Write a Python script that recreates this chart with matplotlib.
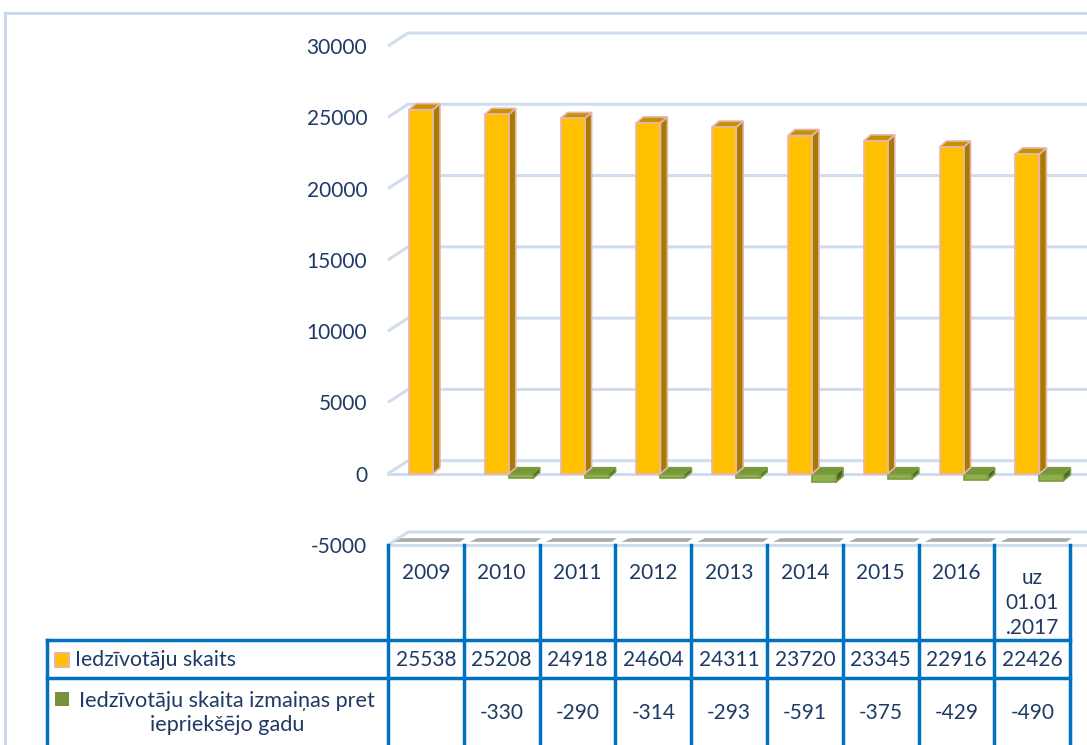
import matplotlib
matplotlib.use("Agg")
import matplotlib.pyplot as plt
from matplotlib.patches import Polygon, Rectangle
from matplotlib.lines import Line2D

plt.rcParams['font.family'] = ['Lato', 'DejaVu Sans']
plt.rcParams['axes.unicode_minus'] = False

# data
categories = ['2009', '2010', '2011', '2012', '2013', '2014', '2015', '2016', 'uz\n01.01\n.2017']
population = [25538, 25208, 24918, 24604, 24311, 23720, 23345, 22916, 22426]
change = [None, -330, -290, -314, -293, -591, -375, -429, -490]
series_names = ['Iedzīvotāju skaits', 'Iedzīvotāju skaita izmaiņas pret\niepriekšējo gadu']
yticks = [-5000, 0, 5000, 10000, 15000, 20000, 25000, 30000]

W, H = 1087, 745
fig = plt.figure(figsize=(W / 100, H / 100), dpi=100)

# pixel layout
ax_left, ax_right = 388, 1087
ax_top, ax_bottom = 46, 545
cat_w = 75.8
x_min = -0.5
x_max = x_min + (ax_right - ax_left) / cat_w
y_min, y_max = -5000, 30000
px_per_val = (ax_bottom - ax_top) / (y_max - y_min)

ax = fig.add_axes([ax_left / W, 1 - ax_bottom / H, (ax_right - ax_left) / W, (ax_bottom - ax_top) / H])
ax.set_xlim(x_min, x_max)
ax.set_ylim(y_min, y_max)
for s in ax.spines.values():
    s.set_visible(False)
ax.set_xticks([])
ax.set_yticks(yticks)
ax.set_yticklabels([str(v) for v in yticks], fontsize=15, color='#1F3A64')
ax.tick_params(axis='y', length=0, pad=15)

# 3d offsets
wall_dx = 20 / cat_w
wall_dy = 13 / px_per_val
bar_dx = 7 / cat_w
bar_dy = 6 / px_per_val
grid_c = '#D0DDEE'

for v in yticks:
    ax.plot([x_min, x_min + wall_dx, x_max + 1], [v, v + wall_dy, v + wall_dy],
            color=grid_c, lw=2.2, clip_on=False, zorder=1, solid_capstyle='butt')
    if v in (0, -5000):
        ax.plot([x_min, x_max + 1], [v, v], color=grid_c, lw=2.2, clip_on=False, zorder=1)

# floor shadows
for i in range(len(categories)):
    ax.add_patch(Polygon([(i - 0.42, y_min + 220), (i + 0.45, y_min + 220),
                          (i + 0.52, y_min + 480), (i - 0.32, y_min + 480)],
                         closed=True, facecolor='#ABABAB', edgecolor='none', zorder=2))

bw = 24 / cat_w
off = 21 / cat_w


def bar3d(x0, v, front, side, top, edge, z):
    lo, hi = min(0, v), max(0, v)
    ax.add_patch(Polygon([(x0 + bw, lo), (x0 + bw + bar_dx, lo + bar_dy),
                          (x0 + bw + bar_dx, hi + bar_dy), (x0 + bw, hi)],
                         facecolor=side, edgecolor=edge, lw=1.2, zorder=z))
    ax.add_patch(Polygon([(x0, hi), (x0 + bar_dx, hi + bar_dy),
                          (x0 + bw + bar_dx, hi + bar_dy), (x0 + bw, hi)],
                         facecolor=top, edgecolor=edge, lw=1.2, zorder=z))
    ax.add_patch(Rectangle((x0, lo), bw, hi - lo, facecolor=front, edgecolor=edge,
                           lw=1.2, zorder=z))


for i, (p, c) in enumerate(zip(population, change)):
    x0 = i - 0.5 + off
    if c is not None:
        bar3d(x0 + bw, c, '#8DB04C', '#4F6A22', '#76963A', '#7A9C3E', 3)
    bar3d(x0, p, '#FFC000', '#A67C00', '#C49300', '#E8B4B0', 4)

# data table
tax = fig.add_axes([ax_left / W, 0, (ax_right - ax_left) / W, 1 - ax_bottom / H])
tax.set_xlim(x_min, x_max)
tax.set_ylim(H, ax_bottom)
tax.axis('off')
line_c = '#0070C0'
n = len(categories)


def px2x(px):
    return x_min + (px - ax_left) / cat_w


leg_left = px2x(47)
for k in range(n + 1):
    tax.plot([x_min + k, x_min + k], [ax_bottom, H + 5], color=line_c, lw=2.5, clip_on=False)
tax.plot([leg_left, leg_left], [640, H + 5], color=line_c, lw=2.5, clip_on=False)
for yy in (640, 678):
    tax.plot([leg_left, x_min + n], [yy, yy], color=line_c, lw=2.5, clip_on=False)

txt_c = '#1F3A64'
for i, cat in enumerate(categories):
    if '\n' in cat:
        tax.text(i, 603, cat, ha='center', va='center', fontsize=15, color=txt_c, linespacing=1.3)
    else:
        tax.text(i, 573, cat, ha='center', va='center', fontsize=15, color=txt_c)
    tax.text(i, 660, str(population[i]), ha='center', va='center', fontsize=15, color=txt_c)
    if change[i] is not None:
        tax.text(i, 713, str(change[i]), ha='center', va='center', fontsize=15, color=txt_c)

key_w = 14 / cat_w
tax.add_patch(Rectangle((px2x(55), 653), key_w, 14, facecolor='#FFC000', edgecolor='#E8B4B0',
                        lw=1.5, clip_on=False))
tax.add_patch(Rectangle((px2x(55), 692), key_w, 14, facecolor='#76923C', edgecolor='none',
                        clip_on=False))
tax.text(px2x(75), 660, series_names[0], ha='left', va='center', fontsize=15.3, color=txt_c)
tax.text(px2x(227), 713, series_names[1], ha='center', va='center', fontsize=15.6, color=txt_c,
         multialignment='center', linespacing=1.25)

# outer chart border
border_c = '#C6D6EC'
fig.add_artist(Line2D([5 / W, 5 / W], [0, 1 - 13 / H], color=border_c, lw=2))
fig.add_artist(Line2D([5 / W, 1], [1 - 13 / H, 1 - 13 / H], color=border_c, lw=2))

fig.savefig('out.png', dpi=100)
